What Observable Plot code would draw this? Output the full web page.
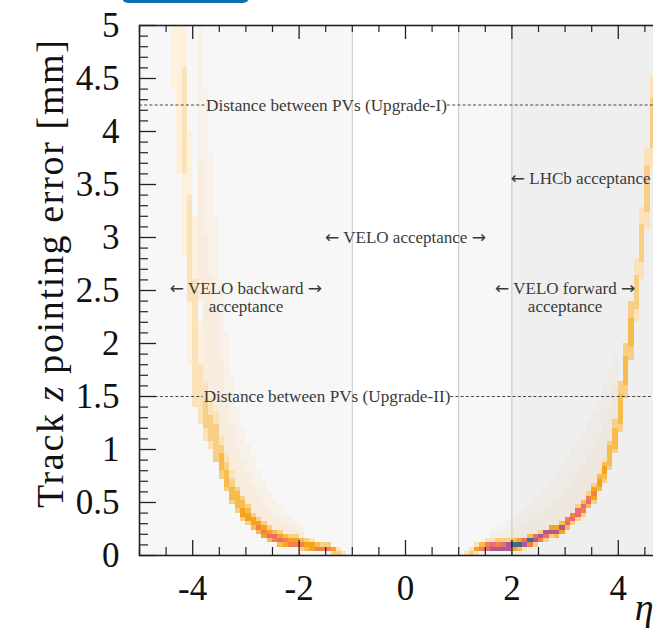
<!DOCTYPE html>
<html><head><meta charset="utf-8">
<script src="https://cdn.jsdelivr.net/npm/d3@7"></script>
<script src="https://cdn.jsdelivr.net/npm/@observablehq/plot@0.6"></script>
<style>
html,body{margin:0;padding:0;background:#fff;overflow:hidden;width:653px;height:630px}
#chart{position:absolute;left:0;top:0;width:700px;height:630px}
#chart svg{max-width:none !important;width:700px !important;height:630px !important}
#tab{position:absolute;left:122px;top:-9px;width:127px;height:12px;background:#0d6eb4;border-radius:6px}
</style></head><body>
<div id="chart"></div><div id="tab"></div>
<script>
// ---- data ----
const levels = [1,2,3,4,5,6,7,8,9];
const levelColors = ["#fdf0dc","#fbe2b9","#f9cf86","#f8bb4e","#f6a21f","#f4814a","#e96b74","#ad5b90","#3e6d8c"];
const xMajorTicks = [-4,-2,0,2,4];
const xTickLabels = ["-4","-2","0","2","4"];
const yMajorTicks = [0,0.5,1,1.5,2,2.5,3,3.5,4,4.5,5];
const yTickLabels = ["0","0.5","1","1.5","2","2.5","3","3.5","4","4.5","5"];
const veloBackward = [-5,-1];
const veloForward = [1,5];
const lhcbAcceptance = [2,5];
const boundaryLines = [-1,1,2];
const pvZ = [4.25,1.5];
const pvLabels = ["Distance between PVs (Upgrade-I)","Distance between PVs (Upgrade-II)"];
const pvLabelEta = [-1.485,-1.475];
const pvGapStart = [-3.76,-3.80];
const pvGapEnd = [0.79,0.85];
const regionLineOne = ["\u2190 VELO backward \u2192","\u2190 VELO acceptance \u2192","\u2190 VELO forward \u2192"];
const regionLineTwo = ["acceptance","","acceptance"];
const regionLabelEta = [-3.0,0.0,3.0];
const regionLabelZ = [2.52,3.0,2.52];
const regionLineTwoZ = [2.345,null,2.345];
const lhcbLabel = ["\u2190 LHCb acceptance"];
const lhcbLabelEta = [1.98];
const lhcbLabelZ = [3.56];
const etaBinWidth = 0.1;
// [eta bin low edge, z low, z high, level]
const rightCells = [
 [1.1,0.00,0.04,2],
 [1.2,0.00,0.04,3],[1.2,0.04,0.08,2],
 [1.3,0.00,0.04,2],[1.3,0.04,0.08,5],[1.3,0.08,0.12,2],
 [1.4,0.04,0.08,6],[1.4,0.08,0.12,4],
 [1.5,0.04,0.08,7],[1.5,0.08,0.12,6],[1.5,0.12,0.16,2],
 [1.6,0.04,0.08,8],[1.6,0.08,0.12,7],[1.6,0.12,0.16,2],
 [1.7,0.04,0.08,8],[1.7,0.08,0.12,6],[1.7,0.12,0.16,3],
 [1.8,0.04,0.08,8],[1.8,0.08,0.12,7],[1.8,0.12,0.16,3],
 [1.9,0.04,0.08,8],[1.9,0.08,0.12,8],[1.9,0.12,0.16,3],
 [2.0,0.04,0.08,5],[2.0,0.08,0.12,9],[2.0,0.12,0.16,4],
 [2.1,0.04,0.08,4],[2.1,0.08,0.12,9],[2.1,0.12,0.16,5],
 [2.2,0.04,0.08,2],[2.2,0.08,0.12,8],[2.2,0.12,0.16,7],
 [2.3,0.08,0.12,6],[2.3,0.12,0.16,9],[2.3,0.16,0.20,4],
 [2.4,0.08,0.12,3],[2.4,0.12,0.16,8],[2.4,0.16,0.20,7],
 [2.5,0.12,0.16,6],[2.5,0.16,0.20,8],[2.5,0.20,0.24,3],
 [2.6,0.12,0.16,3],[2.6,0.16,0.20,7],[2.6,0.20,0.24,8],
 [2.7,0.16,0.20,3],[2.7,0.20,0.24,8],[2.7,0.24,0.28,5],
 [2.8,0.16,0.20,4],[2.8,0.20,0.24,8],[2.8,0.24,0.28,5],
 [2.9,0.20,0.24,5],[2.9,0.24,0.28,8],[2.9,0.28,0.32,4],
 [3.0,0.24,0.28,4],[3.0,0.28,0.32,7],[3.0,0.32,0.36,6],
 [3.1,0.28,0.32,3],[3.1,0.32,0.36,7],[3.1,0.36,0.40,6],
 [3.2,0.32,0.36,3],[3.2,0.36,0.40,7],[3.2,0.40,0.44,7],[3.2,0.44,0.48,3],
 [3.3,0.36,0.40,3],[3.3,0.40,0.44,6],[3.3,0.44,0.48,7],[3.3,0.48,0.52,4],
 [3.4,0.44,0.48,4],[3.4,0.48,0.52,7],[3.4,0.52,0.56,6],[3.4,0.56,0.60,3],
 [3.5,0.48,0.52,3],[3.5,0.52,0.56,5],[3.5,0.56,0.60,6],[3.5,0.60,0.64,5],[3.5,0.64,0.68,3],
 [3.6,0.60,0.64,4],[3.6,0.64,0.72,5],[3.6,0.72,0.76,4],[3.6,0.76,0.80,2],
 [3.7,0.68,0.72,3],[3.7,0.72,0.76,4],[3.7,0.76,0.84,5],[3.7,0.84,0.88,4],[3.7,0.88,0.92,2],
 [3.8,0.80,0.84,3],[3.8,0.84,1.04,4],[3.8,1.04,1.08,3],
 [3.9,0.96,1.00,3],[3.9,1.00,1.20,4],[3.9,1.20,1.28,3],
 [4.0,1.16,1.24,3],[4.0,1.24,1.52,4],[4.0,1.52,1.64,3],
 [4.1,1.48,1.60,3],[4.1,1.60,1.88,4],[4.1,1.88,2.00,3],
 [4.2,1.84,1.96,3],[4.2,1.96,2.24,4],[4.2,2.24,2.40,3],
 [4.3,2.20,2.32,2],[4.3,2.32,2.64,3],[4.3,2.64,2.80,2],
 [4.4,2.60,2.76,2],[4.4,2.76,3.12,3],[4.4,3.12,3.28,2],
 [4.5,3.08,3.24,2],[4.5,3.24,3.68,3],[4.5,3.68,3.84,2],
 [4.6,3.64,3.84,2],[4.6,3.84,4.32,3],[4.6,4.32,4.52,2],
 [4.7,4.28,4.48,2],[4.7,4.48,5.00,2]
];
const leftCells = [
 [-1.2,0.00,0.04,2],
 [-1.3,0.00,0.04,3],[-1.3,0.04,0.08,2],
 [-1.4,0.00,0.04,3],[-1.4,0.04,0.08,5],
 [-1.5,0.04,0.08,6],[-1.5,0.08,0.12,3],
 [-1.6,0.04,0.08,6],[-1.6,0.08,0.12,3],
 [-1.7,0.04,0.08,6],[-1.7,0.08,0.12,4],
 [-1.8,0.04,0.08,5],[-1.8,0.08,0.12,5],[-1.8,0.12,0.16,2],
 [-1.9,0.04,0.08,4],[-1.9,0.08,0.12,5],[-1.9,0.12,0.16,3],
 [-2.0,0.04,0.08,3],[-2.0,0.08,0.12,6],[-2.0,0.12,0.16,4],
 [-2.1,0.08,0.12,6],[-2.1,0.12,0.16,5],[-2.1,0.16,0.20,3],
 [-2.2,0.08,0.12,6],[-2.2,0.12,0.16,5],[-2.2,0.16,0.20,3],
 [-2.3,0.08,0.12,5],[-2.3,0.12,0.16,6],[-2.3,0.16,0.20,4],
 [-2.4,0.08,0.12,4],[-2.4,0.12,0.16,7],[-2.4,0.16,0.20,5],[-2.4,0.20,0.24,3],
 [-2.5,0.12,0.16,6],[-2.5,0.16,0.20,7],[-2.5,0.20,0.24,4],
 [-2.6,0.12,0.16,4],[-2.6,0.16,0.20,7],[-2.6,0.20,0.24,5],[-2.6,0.24,0.28,3],
 [-2.7,0.16,0.20,5],[-2.7,0.20,0.24,6],[-2.7,0.24,0.28,5],[-2.7,0.28,0.32,3],
 [-2.8,0.20,0.24,4],[-2.8,0.24,0.28,6],[-2.8,0.28,0.32,5],[-2.8,0.32,0.36,3],
 [-2.9,0.24,0.28,4],[-2.9,0.28,0.32,5],[-2.9,0.32,0.36,5],[-2.9,0.36,0.40,3],
 [-3.0,0.28,0.32,3],[-3.0,0.32,0.40,5],[-3.0,0.40,0.44,4],[-3.0,0.44,0.48,3],
 [-3.1,0.32,0.36,3],[-3.1,0.36,0.44,5],[-3.1,0.44,0.52,4],[-3.1,0.52,0.56,3],
 [-3.2,0.40,0.44,3],[-3.2,0.44,0.60,4],[-3.2,0.60,0.64,3],
 [-3.3,0.48,0.52,3],[-3.3,0.52,0.64,4],[-3.3,0.64,0.72,3],[-3.3,0.72,0.80,2],
 [-3.4,0.60,0.64,3],[-3.4,0.64,0.80,4],[-3.4,0.80,0.88,3],[-3.4,0.88,0.96,2],
 [-3.5,0.72,0.80,3],[-3.5,0.80,0.96,4],[-3.5,0.96,1.04,3],[-3.5,1.04,1.12,2],
 [-3.6,0.88,1.24,3],[-3.6,1.24,1.36,2],
 [-3.7,1.00,1.08,2],[-3.7,1.08,1.32,3],[-3.7,1.32,1.48,2],
 [-3.8,1.08,1.20,2],[-3.8,1.20,1.44,3],[-3.8,1.44,1.64,2],
 [-3.9,1.24,1.40,2],[-3.9,1.40,1.80,2],[-3.9,1.80,2.20,1],
 [-4.0,1.40,2.60,2],[-4.0,2.60,3.20,1],
 [-4.1,1.80,2.40,1],[-4.1,2.40,3.40,2],[-4.1,3.40,4.00,1],
 [-4.2,2.80,3.60,1],[-4.2,3.60,4.60,2],[-4.2,4.60,5.00,1],
 [-4.3,3.60,5.00,1],
 [-4.4,4.40,5.00,1]
];
// faint diffuse cloud beside each ridge: [eta bin low edge, z low, z high]
const rightCloud = [
 [1.6,0.16,0.26],[1.7,0.16,0.28],[1.8,0.16,0.30],[1.9,0.16,0.33],[2.0,0.16,0.36],
 [2.1,0.16,0.40],[2.2,0.16,0.44],[2.3,0.20,0.48],[2.4,0.20,0.52],[2.5,0.24,0.58],
 [2.6,0.24,0.64],[2.7,0.28,0.70],[2.8,0.28,0.76],[2.9,0.32,0.84],[3.0,0.36,0.92],
 [3.1,0.40,1.00],[3.2,0.48,1.08],[3.3,0.52,1.16],[3.4,0.60,1.26],[3.5,0.68,1.36],
 [3.6,0.76,1.48],[3.7,0.92,1.60],[3.8,1.08,1.75],[3.9,1.28,1.90]
];
const leftCloud = [
 [-2.0,0.16,0.28],[-2.1,0.20,0.32],[-2.2,0.20,0.36],[-2.3,0.20,0.40],[-2.4,0.24,0.46],
 [-2.5,0.24,0.52],[-2.6,0.28,0.60],[-2.7,0.32,0.70],[-2.8,0.36,0.80],[-2.9,0.40,0.92],
 [-3.0,0.48,1.06],[-3.1,0.56,1.22],[-3.2,0.64,1.40],[-3.3,0.80,1.70],[-3.4,0.96,2.10],
 [-3.5,1.12,2.60],[-3.6,1.36,3.20],[-3.7,1.48,3.80],[-3.8,1.64,4.40],[-3.9,2.40,5.00]
];

// ---- build ----
const cells = [...leftCells, ...rightCells].map(([eta, z0, z1, level]) => ({eta, z0, z1, level}));
const cloudR = rightCloud.map(([eta, z0, z1]) => ({eta, z0, z1}));
const cloudL = leftCloud.map(([eta, z0, z1]) => ({eta, z0, z1}));
const pvSegments = pvZ.flatMap((z, i) => [{z, a: -5, b: pvGapStart[i]}, {z, a: pvGapEnd[i], b: 5}]);
const pvText = pvZ.map((z, i) => ({z, eta: pvLabelEta[i], label: pvLabels[i]}));
const regionText = regionLineOne.map((label, i) => ({label, eta: regionLabelEta[i], z: regionLabelZ[i]}));
const regionText2 = regionLineTwo.map((label, i) => ({label, eta: regionLabelEta[i], z: regionLineTwoZ[i]})).filter(d => d.label);
const lhcbText = lhcbLabel.map((label, i) => ({label, eta: lhcbLabelEta[i], z: lhcbLabelZ[i]}));
const xMinor = d3.range(-5, 5.001, 0.5).filter(v => !xMajorTicks.includes(v));
const yMinor = d3.range(0, 50.5, 1).map(v => v / 10).filter(v => !yMajorTicks.includes(v));
const serif = "'Liberation Serif', 'DejaVu Serif', serif";
const frameH = 530, frameW = 532;
const ink = "#222";
const halfUp = d => d.z0 + (d.z1 - d.z0) * 0.5;
const annot = {fontFamily: serif, fontSize: 17, fill: "#3a3a3a"};

const chart = Plot.plot({
  width: 700, height: 630,
  marginLeft: 139, marginRight: 29, marginTop: 25, marginBottom: 75,
  x: {domain: [-5, 5], axis: null},
  y: {domain: [0, 5], axis: null},
  color: {type: "ordinal", domain: levels, range: levelColors},
  style: {background: "transparent", overflow: "visible"},
  marks: [
    Plot.rect([veloBackward], {x1: d => d[0], x2: d => d[1], y1: 0, y2: 5, fill: "black", fillOpacity: 0.03}),
    Plot.rect([veloForward], {x1: d => d[0], x2: d => d[1], y1: 0, y2: 5, fill: "black", fillOpacity: 0.03}),
    Plot.rect([lhcbAcceptance], {x1: d => d[0], x2: d => d[1], y1: 0, y2: 5, fill: "black", fillOpacity: 0.032}),
    Plot.ruleX(boundaryLines, {x: d => d, stroke: "#c8c8c8", strokeWidth: 1}),
    // diffuse clouds (two graded layers each)
    Plot.rect(cloudR, {x1: "eta", x2: d => d.eta + etaBinWidth, y1: "z0", y2: "z1", fill: "#e8c9a0", fillOpacity: 0.09, shapeRendering: "crispEdges"}),
    Plot.rect(cloudR, {x1: "eta", x2: d => d.eta + etaBinWidth, y1: "z0", y2: halfUp, fill: "#e8c9a0", fillOpacity: 0.09, shapeRendering: "crispEdges"}),
    Plot.rect(cloudL, {x1: "eta", x2: d => d.eta + etaBinWidth, y1: "z0", y2: "z1", fill: "#f6cf92", fillOpacity: 0.14, shapeRendering: "crispEdges"}),
    Plot.rect(cloudL, {x1: "eta", x2: d => d.eta + etaBinWidth, y1: "z0", y2: halfUp, fill: "#f6cf92", fillOpacity: 0.14, shapeRendering: "crispEdges"}),
    Plot.rect(cells, {x1: "eta", x2: d => d.eta + etaBinWidth, y1: "z0", y2: "z1", fill: "level", shapeRendering: "crispEdges"}),
    Plot.ruleY(pvSegments, {y: "z", x1: "a", x2: "b", stroke: "#333", strokeWidth: 0.9, strokeDasharray: "3,2.2"}),
    Plot.text(pvText, {x: "eta", y: "z", text: "label", ...annot, fontSize: 17.2}),
    Plot.text(regionText, {x: "eta", y: "z", text: "label", ...annot}),
    Plot.text(regionText2, {x: "eta", y: "z", text: "label", ...annot}),
    Plot.text(lhcbText, {x: "eta", y: "z", text: "label", textAnchor: "start", ...annot}),
    // ticks (inward, all sides)
    Plot.tickX(xMajorTicks, {x: d => d, insetTop: frameH - 15, stroke: ink, strokeWidth: 1.3}),
    Plot.tickX(xMinor, {x: d => d, insetTop: frameH - 8, stroke: ink, strokeWidth: 1.2}),
    Plot.tickX(xMajorTicks, {x: d => d, insetBottom: frameH - 14, stroke: ink, strokeWidth: 1.3}),
    Plot.tickX(xMinor, {x: d => d, insetBottom: frameH - 7, stroke: ink, strokeWidth: 1.2}),
    Plot.tickY(yMajorTicks, {y: d => d, insetRight: frameW - 17, stroke: ink, strokeWidth: 1.3}),
    Plot.tickY(yMinor, {y: d => d, insetRight: frameW - 9, stroke: ink, strokeWidth: 1.2}),
    Plot.frame({stroke: ink, strokeWidth: 1.6}),
    // tick labels
    Plot.text(xMajorTicks, {x: d => d, y: 0, dy: 33, text: (d, i) => xTickLabels[i], fontFamily: serif, fontSize: 35, fill: "#111"}),
    Plot.text(yMajorTicks, {x: -5, y: d => d, dx: -20, textAnchor: "end", text: (d, i) => yTickLabels[i], fontFamily: serif, fontSize: 35, fill: "#111"}),
    Plot.text(["\u03b7"], {frameAnchor: "bottom-right", dx: -18, dy: 64, textAnchor: "end", text: d => d, fontFamily: serif, fontStyle: "italic", fontSize: 38, fill: "#111"})
  ]
});
chart.style.maxWidth = "none";
document.getElementById("chart").appendChild(chart);

// wider arrows, as in the reference typesetting
function widenArrows(node) {
  Array.from(node.childNodes).forEach(child => {
    if (child.nodeType === 3 && /[\u2190\u2192]/.test(child.nodeValue)) {
      const parts = child.nodeValue.split(/([\u2190\u2192])/);
      const frag = document.createDocumentFragment();
      parts.forEach(p => {
        if (!p) return;
        const t = document.createElementNS("http://www.w3.org/2000/svg", "tspan");
        if (p === "\u2190" || p === "\u2192") t.setAttribute("font-family", "DejaVu Sans");
        t.textContent = p;
        frag.appendChild(t);
      });
      child.replaceWith(frag);
    } else if (child.nodeType === 1) widenArrows(child);
  });
}
chart.querySelectorAll("text").forEach(widenArrows);

// y-axis title with italic z
const svg = d3.select(chart);
const yt = svg.append("text")
  .attr("transform", "translate(63,274) rotate(-90)")
  .attr("text-anchor", "middle")
  .attr("font-family", "Liberation Serif, DejaVu Serif, serif")
  .attr("font-size", 38)
  .attr("textLength", 468)
  .attr("lengthAdjust", "spacing")
  .attr("fill", "#111");
yt.append("tspan").text("Track ");
yt.append("tspan").attr("font-style", "italic").text("z");
yt.append("tspan").text(" pointing error [mm]");
</script></body></html>
